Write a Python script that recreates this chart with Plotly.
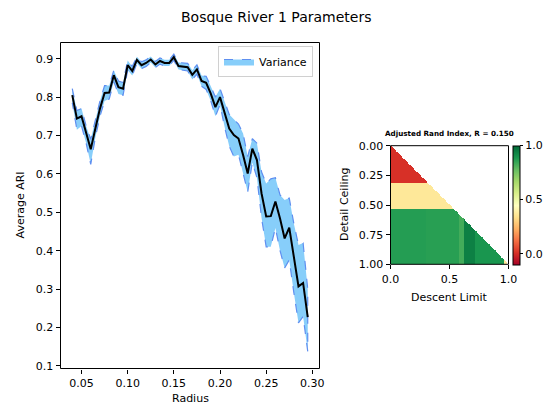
import numpy as np
import plotly.graph_objects as go

# ---- Line panel: average ARI vs radius with variance band ----
radius = [0.040, 0.045, 0.050, 0.055, 0.060, 0.065, 0.070, 0.075, 0.080, 0.085,
          0.090, 0.095, 0.100, 0.105, 0.110, 0.115, 0.120, 0.125, 0.130, 0.135,
          0.140, 0.145, 0.150, 0.155, 0.160, 0.165, 0.170, 0.175, 0.180, 0.185,
          0.190, 0.195, 0.200, 0.205, 0.210, 0.215, 0.220, 0.225, 0.230, 0.235,
          0.240, 0.245, 0.250, 0.255, 0.260, 0.265, 0.270, 0.275, 0.280, 0.285,
          0.290, 0.295]
avg_ari = [0.805, 0.744, 0.750, 0.705, 0.664, 0.718, 0.770, 0.811, 0.812, 0.857,
           0.826, 0.822, 0.883, 0.868, 0.897, 0.883, 0.889, 0.898, 0.885, 0.894,
           0.889, 0.889, 0.904, 0.881, 0.880, 0.878, 0.858, 0.872, 0.842, 0.837,
           0.809, 0.774, 0.800, 0.758, 0.718, 0.701, 0.692, 0.649, 0.601, 0.666,
           0.636, 0.549, 0.489, 0.490, 0.528, 0.484, 0.432, 0.460, 0.380, 0.307,
           0.316, 0.227]
var_lower = [0.785, 0.715, 0.725, 0.680, 0.625, 0.695, 0.750, 0.790, 0.795, 0.840,
             0.808, 0.805, 0.870, 0.856, 0.888, 0.874, 0.880, 0.890, 0.877, 0.886,
             0.881, 0.881, 0.896, 0.872, 0.871, 0.868, 0.846, 0.860, 0.828, 0.820,
             0.790, 0.750, 0.780, 0.722, 0.672, 0.645, 0.650, 0.600, 0.553, 0.630,
             0.590, 0.485, 0.410, 0.410, 0.459, 0.400, 0.355, 0.376, 0.290, 0.212,
             0.229, 0.138]
var_upper = [0.822, 0.765, 0.770, 0.725, 0.690, 0.740, 0.790, 0.830, 0.830, 0.870,
             0.842, 0.838, 0.895, 0.880, 0.905, 0.892, 0.897, 0.906, 0.893, 0.902,
             0.897, 0.897, 0.912, 0.890, 0.889, 0.888, 0.870, 0.884, 0.856, 0.854,
             0.828, 0.800, 0.822, 0.790, 0.755, 0.742, 0.730, 0.705, 0.645, 0.692,
             0.680, 0.605, 0.575, 0.587, 0.590, 0.545, 0.532, 0.537, 0.470, 0.415,
             0.420, 0.300]

radius_ticks = [0.05, 0.10, 0.15, 0.20, 0.25, 0.30]
ari_ticks = [0.1, 0.2, 0.3, 0.4, 0.5, 0.6, 0.7, 0.8, 0.9]

# ---- Heatmap panel: ARI over (descent limit, detail ceiling) ----
grid_n = 100
ceiling_edges = [0.0, 0.31, 0.53, 1.0]
ceiling_band_ari = [0.01, 0.37, None]          # None: varies by descent limit
descent_edges = [0.0, 0.30, 0.58, 0.62, 0.72, 0.96, 1.0]
low_band_ari = [0.875, 0.87, 0.83, 0.945, 0.895, 0.37]

heat_ticks = [0.0, 0.25, 0.5, 0.75, 1.0]
heat_tick_text = ["0.00", "0.25", "0.50", "0.75", "1.00"]
descent_ticks = [0.0, 0.5, 1.0]
descent_tick_text = ["0.0", "0.5", "1.0"]

centers = (np.arange(grid_n) + 0.5) / grid_n
z = [[None] * grid_n for _ in range(grid_n)]
for i, yc in enumerate(centers):
    b = np.searchsorted(ceiling_edges, yc) - 1
    for j, xc in enumerate(centers):
        if j > i:
            continue  # descent limit cannot exceed detail ceiling
        if ceiling_band_ari[b] is not None:
            z[i][j] = ceiling_band_ari[b]
        else:
            k = np.searchsorted(descent_edges, xc) - 1
            z[i][j] = low_band_ari[k]

W, H = 553, 407
FONT = "DejaVu Sans"


def px_x(p):
    return p / W


def px_y(p):
    return 1 - p / H


fig = go.Figure()

fig.add_trace(go.Scatter(
    x=radius + radius[::-1],
    y=var_upper + var_lower[::-1],
    fill="toself", fillcolor="#87CEFA",
    line=dict(color="#5f8ff0", dash="dash", width=1.2),
    name="Variance", mode="lines", xaxis="x", yaxis="y",
))
fig.add_trace(go.Scatter(
    x=radius, y=avg_ari, mode="lines",
    line=dict(color="black", width=2),
    showlegend=False, xaxis="x", yaxis="y",
))

fig.add_trace(go.Heatmap(
    z=z, x=centers, y=centers,
    colorscale="RdYlGn", zmin=-0.1, zmax=1.0,
    xaxis="x2", yaxis="y2", showscale=True, hoverongaps=False,
    colorbar=dict(
        x=px_x(512.7), xanchor="left", xref="paper",
        y=px_y((145.7 + 264.3) / 2), yanchor="middle",
        len=(264.3 - 145.7) / H, lenmode="fraction",
        thickness=7, thicknessmode="pixels",
        outlinewidth=1, outlinecolor="black",
        tickvals=[0.0, 0.5, 1.0], ticktext=["0.0", "0.5", "1.0"],
        ticks="outside", ticklen=3, tickcolor="black",
        tickfont=dict(size=11, color="black", family=FONT),
        xpad=0, ypad=0,
    ),
))

axis_common = dict(
    showline=False, showgrid=False, zeroline=False, ticks="outside", ticklen=4,
    tickcolor="black", automargin=False,
    tickfont=dict(size=11, color="black", family=FONT),
)

fig.update_layout(
    width=W, height=H,
    margin=dict(l=0, r=0, t=0, b=0, autoexpand=False),
    paper_bgcolor="white", plot_bgcolor="white",
    font=dict(family=FONT, color="black"),
    xaxis=dict(domain=[px_x(60.5), px_x(319.5)], range=[0.02725, 0.30775],
               tickvals=radius_ticks, ticktext=[f"{t:.2f}" for t in radius_ticks],
               anchor="y", **axis_common),
    yaxis=dict(domain=[px_y(368.5), px_y(42.5)], range=[0.0932, 0.9422],
               tickvals=ari_ticks, ticktext=[f"{t:.1f}" for t in ari_ticks],
               anchor="x", **axis_common),
    xaxis2=dict(domain=[px_x(390.5), px_x(508.5)], range=[0, 1],
                tickvals=descent_ticks, ticktext=descent_tick_text,
                anchor="y2", **axis_common),
    yaxis2=dict(domain=[px_y(264.3), px_y(145.7)], range=[1, 0],
                tickvals=heat_ticks, ticktext=heat_tick_text,
                anchor="x2", **axis_common),
    legend=dict(
        x=px_x(313), xanchor="right", y=px_y(46), yanchor="top",
        bgcolor="white", bordercolor="#d0d0d0", borderwidth=1,
        font=dict(size=11, color="black", family=FONT),
    ),
    showlegend=True,
)

# axes frames
for xr, yr in (("x", "y"), ("x2", "y2")):
    fig.add_shape(type="rect", xref=f"{xr} domain", yref=f"{yr} domain",
                  x0=0, x1=1, y0=0, y1=1, line=dict(color="black", width=1),
                  fillcolor="rgba(0,0,0,0)", layer="above")

annotations = [
    dict(text="Bosque River 1 Parameters", x=0.5, y=px_y(17), size=14, angle=0, bold=False),
    dict(text="Average ARI", x=px_x(20), y=px_y(205.5), size=11, angle=-90, bold=False),
    dict(text="Radius", x=px_x(190), y=px_y(398), size=11, angle=0, bold=False),
    dict(text="Detail Ceiling", x=px_x(344), y=px_y(205), size=11, angle=-90, bold=False),
    dict(text="Descent Limit", x=px_x(449), y=px_y(297), size=11, angle=0, bold=False),
    dict(text="Adjusted Rand Index, R = 0.150", x=px_x(449.5), y=px_y(134), size=7.2, angle=0, bold=True),
]
for a in annotations:
    fig.add_annotation(
        text=f"<b>{a['text']}</b>" if a["bold"] else a["text"],
        x=a["x"], y=a["y"], xref="paper", yref="paper",
        xanchor="center", yanchor="middle", showarrow=False,
        textangle=a["angle"], font=dict(size=a["size"], color="black", family=FONT),
    )

fig.write_html("out.html")
